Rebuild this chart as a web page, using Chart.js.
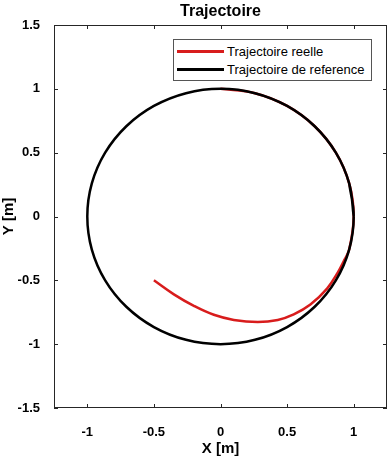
<!DOCTYPE html>
<html>
<head>
<meta charset="utf-8">
<script src="https://cdn.jsdelivr.net/npm/chart.js@4"></script>
<style>
  body { margin: 0; background: #fff; }
  #wrap { position: relative; width: 392px; height: 462px; }
  #legend {
    position: absolute; left: 173px; top: 39px; width: 199px; height: 42px;
    box-sizing: border-box; border: 1px solid #555; background: #fff;
    font: 13px "Liberation Sans", Arial, sans-serif; color: #000;
  }
  .row { position: absolute; left: 3px; height: 16px; display: flex; align-items: center; white-space: nowrap; }
  .row span.sw { display: inline-block; width: 47px; height: 3px; margin-right: 3px; }
</style>
</head>
<body>
<div id="wrap">
  <canvas id="trajChart" width="392" height="462"></canvas>
  <div id="legend">
    <div class="row" style="top:3px"><span class="sw" style="background:#d81c1c"></span>Trajectoire reelle</div>
    <div class="row" style="top:21px"><span class="sw" style="background:#000"></span>Trajectoire de reference</div>
  </div>
</div>
<script>
// reference trajectory: unit circle, read every 15 degrees
const refX = [1, 0.966, 0.866, 0.707, 0.5, 0.259, 0, -0.259, -0.5, -0.707, -0.866, -0.966, -1,
              -0.966, -0.866, -0.707, -0.5, -0.259, 0, 0.259, 0.5, 0.707, 0.866, 0.966, 1, 0.966];
const refY = [0, 0.259, 0.5, 0.707, 0.866, 0.966, 1, 0.966, 0.866, 0.707, 0.5, 0.259, 0,
              -0.259, -0.5, -0.707, -0.866, -0.966, -1, -0.966, -0.866, -0.707, -0.5, -0.259, 0, 0.259];

// real trajectory: starts at (-0.5,-0.5), joins the circle and follows it up to the top
const realX = [-0.5, -0.35, -0.2, -0.05, 0.1, 0.28, 0.43, 0.55, 0.675, 0.8, 0.88, 0.93, 0.966, 1,
               0.966, 0.866, 0.707, 0.5, 0.259, 0];
const realY = [-0.5, -0.61, -0.7, -0.77, -0.81, -0.826, -0.81, -0.767, -0.69, -0.565, -0.44, -0.34, -0.259, 0,
               0.259, 0.5, 0.707, 0.866, 0.966, 1];

const xTicks = [-1, -0.5, 0, 0.5, 1];
const yTicks = [-1.5, -1, -0.5, 0, 0.5, 1, 1.5];

const FONT = '"Liberation Sans", Arial, sans-serif';

function toPoints(xs, ys) {
    return xs.map((x, i) => ({ x: x, y: ys[i] }));
}

// box around the plot with inward ticks, plus the centred title
const framePlugin = {
    id: 'frame',
    afterDraw(chart) {
        const ctx = chart.ctx;
        const a = chart.chartArea;
        const xs = chart.scales.x;
        const ys = chart.scales.y;
        ctx.save();
        ctx.strokeStyle = '#262626';
        ctx.lineWidth = 1;
        ctx.strokeRect(a.left + 0.5, a.top + 0.5, a.right - a.left - 1, a.bottom - a.top - 1);
        ctx.beginPath();
        xTicks.forEach(v => {
            const px = Math.round(xs.getPixelForValue(v)) + 0.5;
            ctx.moveTo(px, a.bottom); ctx.lineTo(px, a.bottom - 4);
            ctx.moveTo(px, a.top); ctx.lineTo(px, a.top + 4);
        });
        yTicks.forEach(v => {
            const py = Math.round(ys.getPixelForValue(v)) + 0.5;
            ctx.moveTo(a.left, py); ctx.lineTo(a.left + 4, py);
            ctx.moveTo(a.right, py); ctx.lineTo(a.right - 4, py);
        });
        ctx.stroke();

        ctx.fillStyle = '#000';
        ctx.font = 'bold 16px ' + FONT;
        ctx.textAlign = 'center';
        ctx.textBaseline = 'middle';
        ctx.fillText('Trajectoire', (a.left + a.right) / 2, 12);
        ctx.restore();
    }
};

const ctx = document.getElementById('trajChart').getContext('2d');
new Chart(ctx, {
    type: 'scatter',
    data: {
        datasets: [
            {
                label: 'Trajectoire reelle',
                data: toPoints(realX, realY),
                showLine: true,
                borderColor: '#d81c1c',
                borderWidth: 2.5,
                pointRadius: 0,
                tension: 0.4,
                order: 2
            },
            {
                label: 'Trajectoire de reference',
                data: toPoints(refX, refY),
                showLine: true,
                borderColor: '#000',
                borderWidth: 2.5,
                pointRadius: 0,
                tension: 0.4,
                order: 1
            }
        ]
    },
    options: {
        responsive: false,
        animation: false,
        layout: { padding: { left: 0, top: 25, right: 5, bottom: 0 } },
        plugins: {
            legend: { display: false },
            tooltip: { enabled: false }
        },
        scales: {
            x: {
                type: 'linear',
                min: -1.25,
                max: 1.25,
                afterBuildTicks: s => { s.ticks = xTicks.map(v => ({ value: v })); },
                afterFit: s => { s.height = 54; },
                grid: { display: false },
                border: { display: false },
                ticks: {
                    color: '#000',
                    padding: 9,
                    font: { family: FONT, size: 13, weight: 'bold' },
                    callback: v => String(v)
                },
                title: {
                    display: true,
                    text: 'X [m]',
                    color: '#000',
                    font: { family: FONT, size: 15, weight: 'bold' },
                    padding: { top: 2 }
                }
            },
            y: {
                type: 'linear',
                min: -1.5,
                max: 1.5,
                afterBuildTicks: s => { s.ticks = yTicks.map(v => ({ value: v })); },
                afterFit: s => { s.width = 54; },
                grid: { display: false },
                border: { display: false },
                ticks: {
                    color: '#000',
                    padding: 6,
                    font: { family: FONT, size: 13, weight: 'bold' },
                    callback: v => String(v)
                },
                title: {
                    display: true,
                    text: 'Y [m]',
                    color: '#000',
                    font: { family: FONT, size: 15, weight: 'bold' },
                    padding: 0
                }
            }
        }
    },
    plugins: [framePlugin]
});
</script>
</body>
</html>
